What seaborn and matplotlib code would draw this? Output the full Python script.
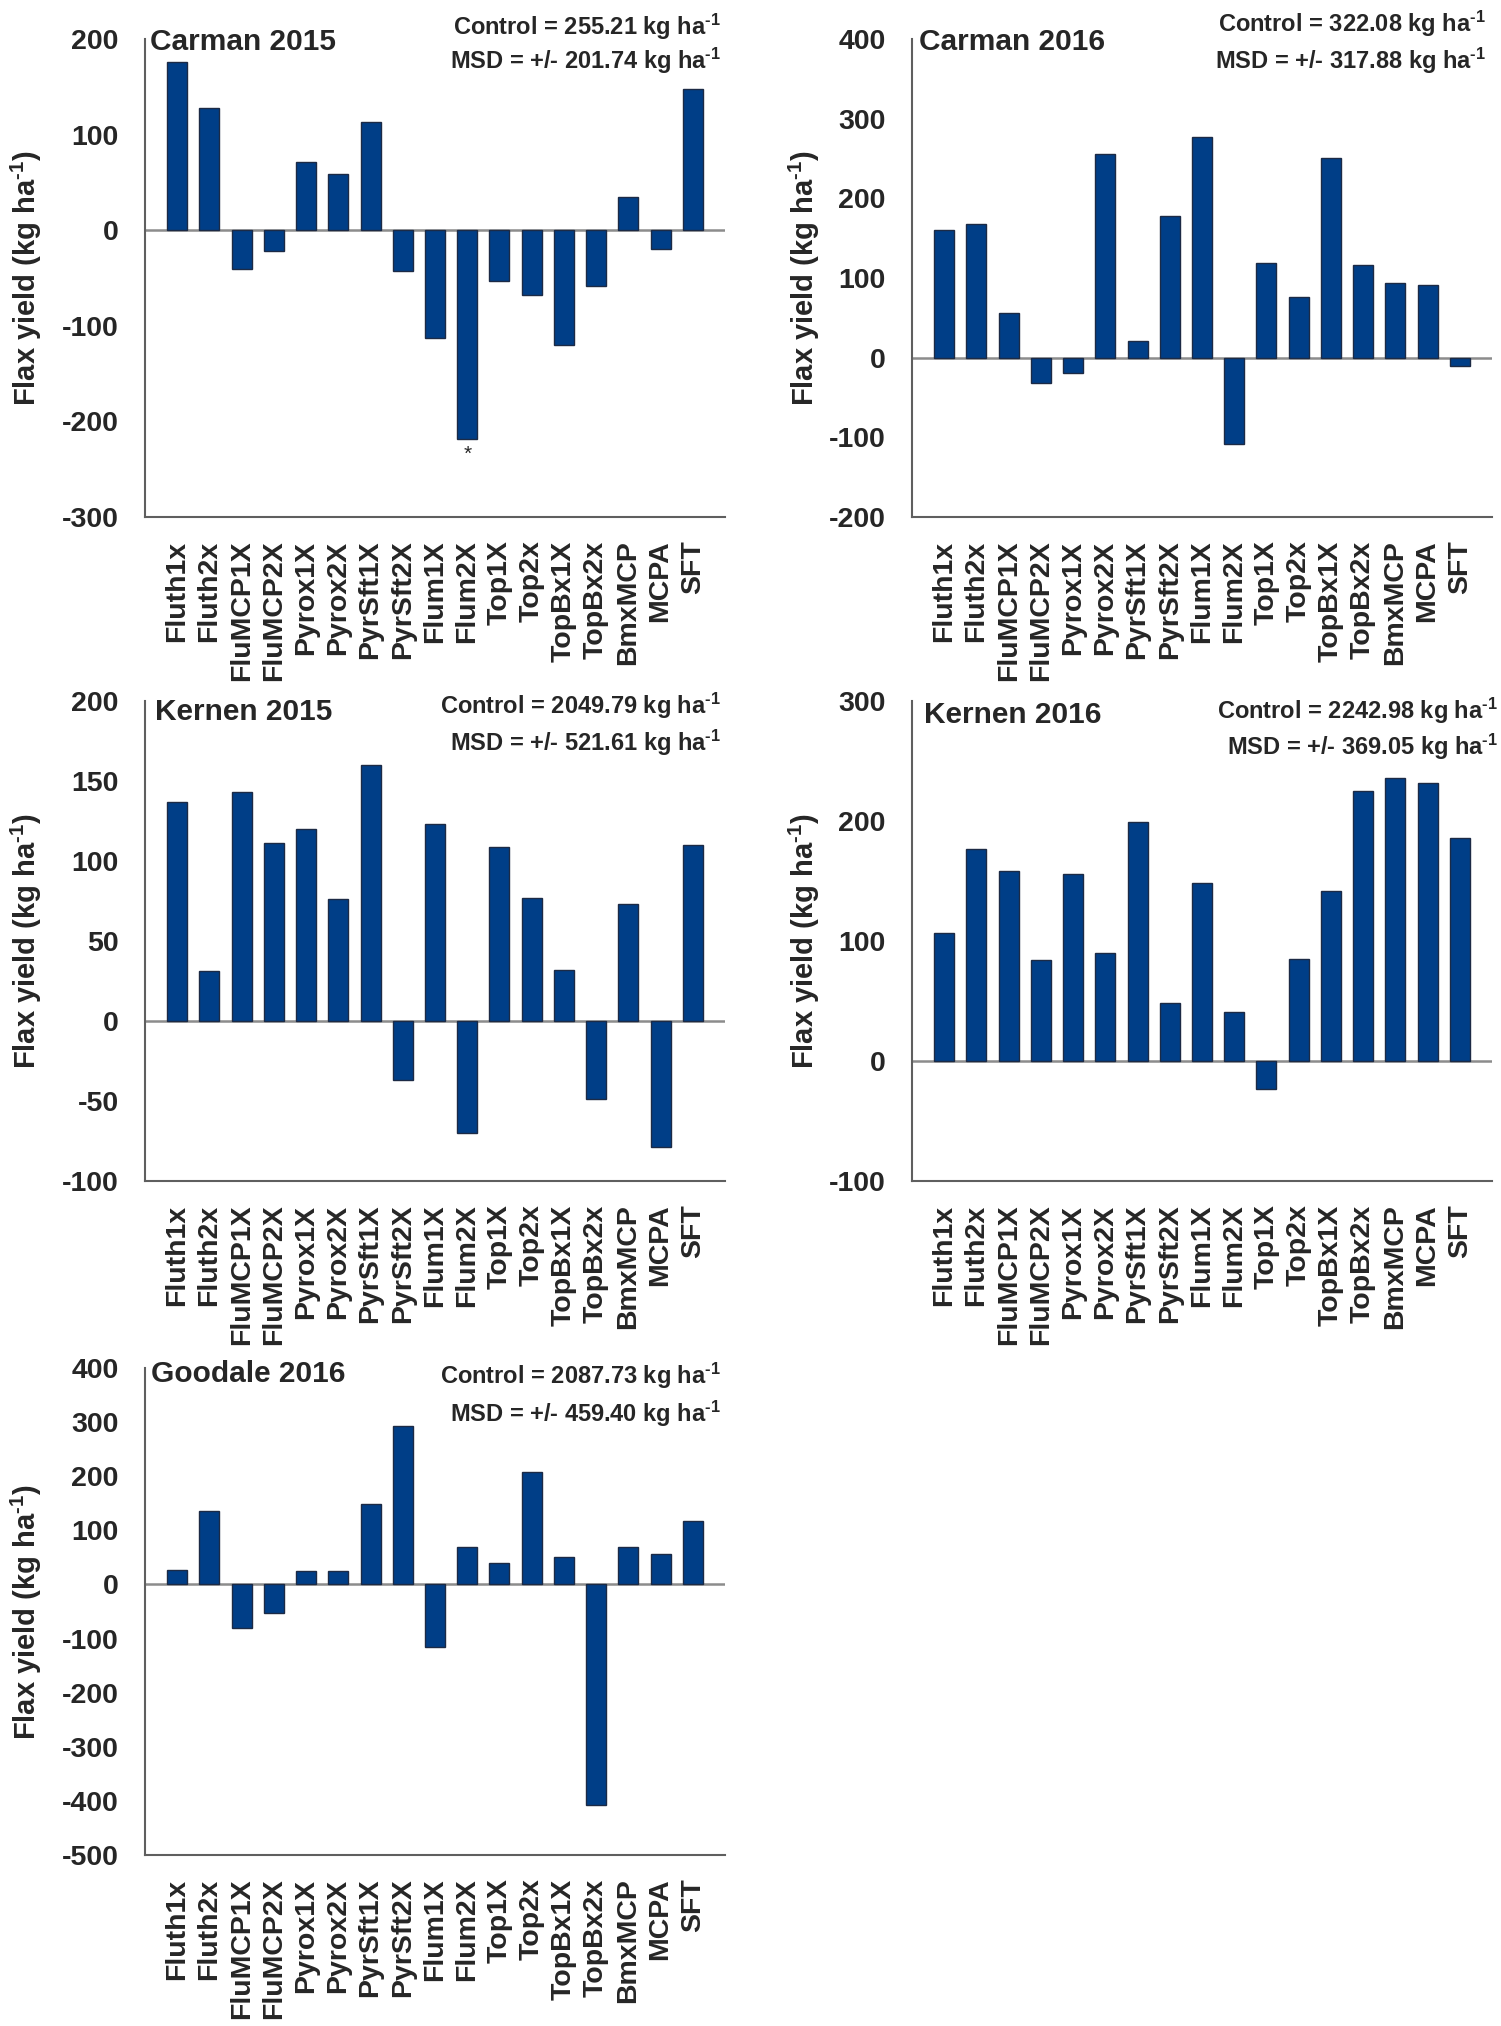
import numpy as np
import pandas as pd
import matplotlib
matplotlib.use('Agg')
import matplotlib.pyplot as plt
import seaborn as sns

treatments = ['Fluth1x', 'Fluth2x', 'FluMCP1X', 'FluMCP2X', 'Pyrox1X', 'Pyrox2X',
              'PyrSft1X', 'PyrSft2X', 'Flum1X', 'Flum2X', 'Top1X', 'Top2x',
              'TopBx1X', 'TopBx2x', 'BmxMCP', 'MCPA', 'SFT']

# yield difference from control (kg/ha)
carman15 = [176, 128, -41, -22, 71, 59, 113, -43, -113, -218, -53, -68, -120, -58, 35, -20, 148]
carman16 = [160, 168, 56, -32, -19, 256, 21, 178, 277, -108, 119, 76, 251, 116, 94, 91, -10]
kernen15 = [137, 31, 143, 111, 120, 76, 160, -37, 123, -70, 109, 77, 32, -49, 73, -79, 110]
kernen16 = [107, 177, 158, 84, 156, 90, 199, 48, 148, 41, -23, 85, 142, 225, 236, 232, 186]
goodale16 = [26, 135, -81, -53, 24, 24, 149, 292, -116, 69, 40, 208, 51, -407, 69, 57, 118]

site_names = ['Carman 2015', 'Carman 2016', 'Kernen 2015', 'Kernen 2016', 'Goodale 2016']
controls = ['255.21', '322.08', '2049.79', '2242.98', '2087.73']
msds = ['201.74', '317.88', '521.61', '369.05', '459.40']
y_ranges = [(-300, 200, 100), (-200, 400, 100), (-100, 200, 50), (-100, 300, 100), (-500, 400, 100)]

sns.set_style('white')
plt.rcParams['font.family'] = ['Liberation Sans', 'DejaVu Sans']
plt.rcParams['font.weight'] = 'bold'
plt.rcParams['axes.unicode_minus'] = False
plt.rcParams['mathtext.fontset'] = 'custom'
plt.rcParams['mathtext.rm'] = 'Liberation Sans:bold'
plt.rcParams['mathtext.bf'] = 'Liberation Sans:bold'
plt.rcParams['mathtext.default'] = 'bf'

W, H = 1501, 2026
fig = plt.figure(figsize=(W / 100, H / 100), dpi=100)

# panel boxes in pixels: left, top, width, height
boxes = [(145, 39, 580, 478), (912, 39, 580, 478),
         (145, 701, 580, 480), (912, 701, 580, 480),
         (145, 1368, 580, 487)]
title_pos = [(0.008, 0.993), (0.012, 0.993), (0.017, 0.977), (0.02, 0.97), (0.01, 0.988)]
note_pos = [(0.993, 1.026, 0.954), (0.99, 1.032, 0.954), (0.993, 0.99, 0.912),
            (1.01, 0.979, 0.904), (0.993, 0.983, 0.905)]
label_x = [-0.174, -0.155, -0.174, -0.155, -0.174]
series = [carman15, carman16, kernen15, kernen16, goodale16]

bar_color = '#003E87'
axis_grey = '#5f5f5f'
unit = r'kg ha$^{\text{-1}}$'

for i, vals in enumerate(series):
    l, t, w, h = boxes[i]
    ax = fig.add_axes([l / W, 1 - (t + h) / H, w / W, h / H])
    df = pd.DataFrame({'treatment': treatments, 'diff': vals})
    ax.axhline(0, color='#8c8c8c', lw=1.8, zorder=0.5)
    sns.barplot(data=df, x='treatment', y='diff', order=treatments, color=bar_color,
                saturation=1, width=0.62, edgecolor='#1c2a45', linewidth=1, ax=ax, zorder=2)
    lo, hi, step = y_ranges[i]
    ax.set_ylim(lo, hi)
    ax.set_yticks(np.arange(lo, hi + 1, step))
    ax.set_xlim(-1.0, 17.0)
    ax.set_xlabel('')
    ax.set_ylabel(f'Flax yield ({unit})', fontsize=21, fontweight='bold')
    ax.yaxis.set_label_coords(label_x[i], 0.5)
    for side in ['top', 'right']:
        ax.spines[side].set_visible(False)
    for side in ['left', 'bottom']:
        ax.spines[side].set_color(axis_grey)
        ax.spines[side].set_linewidth(1.5)
    ax.tick_params(axis='y', length=9, width=1.5, color=axis_grey, pad=10, labelsize=20.5)
    ax.tick_params(axis='x', length=0, pad=17, labelsize=20.5, rotation=90)
    for lab in ax.get_xticklabels() + ax.get_yticklabels():
        lab.set_fontweight('bold')

    tx, ty = title_pos[i]
    ax.text(tx, ty, site_names[i], transform=ax.transAxes, ha='left', va='center',
            fontsize=21.5, fontweight='bold')
    nx, cy, my = note_pos[i]
    ax.text(nx, cy, f'Control = {controls[i]} {unit}', transform=ax.transAxes,
            ha='right', va='center', fontsize=17, fontweight='bold')
    ax.text(nx, my, f'MSD = +/- {msds[i]} {unit}', transform=ax.transAxes,
            ha='right', va='center', fontsize=17, fontweight='bold')

    if i == 0:
        # significant difference marker under Flum2X
        ax.text(treatments.index('Flum2X'), -234, '*', ha='center', va='center',
                fontsize=15, fontweight='normal')

fig.savefig('out.png', dpi=100, facecolor='white')
